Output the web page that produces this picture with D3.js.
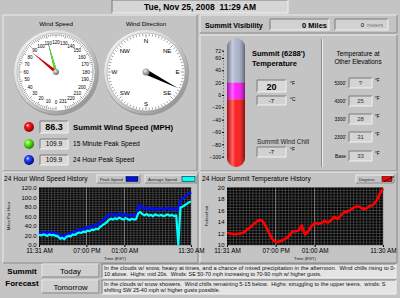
<!DOCTYPE html>
<html>
<head>
<meta charset="utf-8">
<script src="https://cdn.jsdelivr.net/npm/d3@7"></script>
<style>
body { margin: 0; background: #c4c4c4; }
text { font-family: "Liberation Sans", Arial, sans-serif; fill: #000; }
.axis text { font-size: 6px; }
.axis path { display: none; }
.axis line { stroke: #000; }
</style>
</head>
<body>
<svg id="chart" width="400" height="298"></svg>
<script>

// ---- data ----
var dateText = "Tue, Nov 25, 2008  11:29 AM";
var speedLabels = [0,10,20,30,40,50,60,70,80,90,100,110,120,130,140,150,160,170,180,190,200,210,220,231];
var compassLabels = ["N","NE","E","SE","S","SW","W","NW"];
var compassAngles = [0,45,90,135,180,225,270,315];
var windNow = 86.3, peak15 = 109.9, peak24 = 109.9, windDir = 117;
var summitF = 20, summitC = -7, chillF = -7;
var visMiles = 0, visMeters = 0;
var elevNames = ["5300'","4300'","3300'","2300'","Base"];
var elevTemps = ["?","25","28","31","33"];
var thermTicks = [72,60,40,20,0,-20,-40,-60,-80,-100];

// wind history, one sample every 20 min
var avgSpeed = [21,20,22,21,19,22,20,21,19,18,
  13,15,12,17,19,18,22,21,24,26,
  25,28,27,30,29,32,31,34,33,38,
  41,44,47,52,55,53,56,54,57,55,
  53,56,54,52,55,53,54,66,69,64,
  62,65,61,63,60,64,62,61,63,60,
  62,64,61,63,60,62,0,78,80,83,86,89,91];
var peakSpeed = [26,25,27,26,24,27,25,26,24,23,
  18,20,17,22,24,23,27,26,30,33,
  31,35,34,38,37,40,39,43,42,47,
  51,55,58,62,64,61,65,62,66,63,
  61,65,62,60,63,61,62,80,84,77,
  75,79,74,77,73,78,75,74,77,73,
  76,78,74,77,73,76,74,94,97,100,104,107,110];
// temperature history, one sample every 30 min
var tempF = [12.1,12.0,11.9,11.9,12.0,12.1,12.6,13.0,13.5,14.0,
  14.4,14.1,13.2,12.0,11.0,10.5,10.6,10.8,11.1,11.5,
  12.3,12.4,12.5,13.4,11.8,12.4,13.3,13.8,13.7,13.8,
  14.2,13.9,14.3,14.9,14.5,15.1,15.7,15.8,16.1,16.5,
  16.7,16.6,16.2,16.4,16.8,17.0,17.7,18.9,19.8];

var timeTicks = ["2008-11-24T11:31","2008-11-24T19:00","2008-11-25T01:00","2008-11-25T11:30"];
var windTicks = [0,20,40,60,80,100,120];
var tempTicks = [10,12,14,16,18,20];
var forecastDays = ["Today","Tomorrow"];
var forecastLines = [
  ["In the clouds w/ snow, heavy at times, and a chance of mixed precipitation in the afternoon.  Wind chills rising to 0-",
   "10 above.  Highs: mid 20s.  Winds: SE 50-70 mph increasing to 70-90 mph w/ higher gusts."],
  ["In the clouds w/ snow showers.  Wind chills remaining 5-15 below.  Highs: struggling to the upper teens.  winds: S",
   "shifting SW 25-40 mph w/ higher gusts possible."]
];

var svg = d3.select("#chart");
var defs = svg.append("defs");
var parseT = d3.timeParse("%Y-%m-%dT%H:%M");
var t0 = parseT(timeTicks[0]);

// ---- helpers ----
function grad(id, x2, y2, stops) {
  var g = defs.append("linearGradient").attr("id", id)
    .attr("x1", 0).attr("y1", 0).attr("x2", x2).attr("y2", y2);
  stops.forEach(function(s) {
    g.append("stop").attr("offset", s[0]).attr("stop-color", s[1]).attr("stop-opacity", s[2] == null ? 1 : s[2]);
  });
}
function rgrad(id, c0, c1) {
  var g = defs.append("radialGradient").attr("id", id).attr("cx", "38%").attr("cy", "35%").attr("r", "65%");
  g.append("stop").attr("offset", 0).attr("stop-color", "#fff");
  g.append("stop").attr("offset", 0.25).attr("stop-color", c0);
  g.append("stop").attr("offset", 1).attr("stop-color", c1);
}
grad("bezel", 1, 1, [[0,"#fbfbfb"],[0.5,"#d0d0d0"],[1,"#808080"]]);
grad("tubeShade", 1, 0, [[0,"#000",0.35],[0.3,"#fff",0.35],[0.5,"#fff",0.05],[1,"#000",0.45]]);
rgrad("ledRed", "#ff2020", "#900000");
rgrad("ledGreen", "#70ff30", "#208000");
rgrad("ledBlue", "#3050ff", "#000080");
rgrad("pivot", "#c8c8c8", "#707070");

function raised(x, y, w, h) {
  svg.append("rect").attr("x", x).attr("y", y).attr("width", w).attr("height", h).attr("fill", "#c4c4c4");
  svg.append("path").attr("d", "M" + x + "," + (y + h) + "V" + y + "H" + (x + w))
    .attr("stroke", "#ececec").attr("fill", "none");
  svg.append("path").attr("d", "M" + x + "," + (y + h) + "H" + (x + w) + "V" + y)
    .attr("stroke", "#8a8a8a").attr("fill", "none");
}
function inset(x, y, w, h, fill) {
  svg.append("rect").attr("x", x).attr("y", y).attr("width", w).attr("height", h).attr("fill", fill || "#d2d2d2");
  svg.append("path").attr("d", "M" + x + "," + (y + h) + "V" + y + "H" + (x + w))
    .attr("stroke", "#7a7a7a").attr("fill", "none");
  svg.append("path").attr("d", "M" + x + "," + (y + h) + "H" + (x + w) + "V" + y)
    .attr("stroke", "#f2f2f2").attr("fill", "none");
}
function txt(x, y, s, size, anchor, weight, color) {
  return svg.append("text").attr("x", x).attr("y", y).text(s)
    .style("font-size", size + "px").attr("text-anchor", anchor || "start")
    .style("font-weight", weight || "normal").style("fill", color || "#000")
    .style("white-space", "pre");
}

// ---- panels ----
inset(112, 0, 176, 13, "#d6d6d6");
txt(200, 10, dateText, 8.5, "middle", "bold");
raised(3, 15, 194, 156);
raised(200, 15, 197, 18);
raised(200, 35, 197, 136);
raised(3, 172, 195, 91);
raised(200, 172, 197, 91);

// ---- gauges ----
function gaugeBase(cx, cy, label) {
  txt(cx, 26, label, 6.2, "middle");
  svg.append("circle").attr("cx", cx + 0.5).attr("cy", cy + 1).attr("r", 42.5).attr("fill", "#9a9a9a");
  svg.append("circle").attr("cx", cx).attr("cy", cy).attr("r", 42).attr("fill", "url(#bezel)");
  svg.append("circle").attr("cx", cx).attr("cy", cy).attr("r", 39).attr("fill", "#fff")
    .attr("stroke", "#a0a0a0").attr("stroke-width", 0.6);
}
function needle(cx, cy, ang, len, half, color) {
  var dx = Math.sin(ang), dy = -Math.cos(ang);
  var pts = [[cx + dx * len, cy + dy * len], [cx - dy * half, cy + dx * half],
             [cx - dx * 3, cy - dy * 3], [cx + dy * half, cy - dx * half]];
  svg.append("polygon").attr("points", pts.map(function(p) { return p.join(","); }).join(" "))
    .attr("fill", color);
}

// wind speed: 0 at bottom, clockwise, 240 per turn
var sx = 56, sy = 72;
var speedAngle = d3.scaleLinear().domain([0, 240]).range([Math.PI, 3 * Math.PI]);
gaugeBase(sx, sy, "Wind Speed");
d3.range(0, 232, 2).forEach(function(v) {
  var a = speedAngle(v), r2 = v % 10 === 0 ? 34.5 : 36;
  svg.append("line")
    .attr("x1", sx + Math.sin(a) * 38).attr("y1", sy - Math.cos(a) * 38)
    .attr("x2", sx + Math.sin(a) * r2).attr("y2", sy - Math.cos(a) * r2)
    .attr("stroke", "#333").attr("stroke-width", 0.5);
});
speedLabels.forEach(function(v) {
  var a = speedAngle(v);
  txt(sx + Math.sin(a) * 30, sy - Math.cos(a) * 30 + 1.7, v, 4.6, "middle");
});
needle(sx, sy, speedAngle(peak24), 33, 1.2, "#1030ff");
needle(sx, sy, speedAngle(peak15), 33, 1.3, "#66e000");
needle(sx, sy, speedAngle(windNow), 32, 1.6, "#d00000");
svg.append("circle").attr("cx", sx).attr("cy", sy).attr("r", 3).attr("fill", "url(#pivot)");

// wind direction
var dxc = 146, dyc = 72;
gaugeBase(dxc, dyc, "Wind Direction");
d3.range(0, 360, 5).forEach(function(d) {
  var a = d * Math.PI / 180, r2 = d % 45 === 0 ? 34.5 : 36;
  svg.append("line")
    .attr("x1", dxc + Math.sin(a) * 38).attr("y1", dyc - Math.cos(a) * 38)
    .attr("x2", dxc + Math.sin(a) * r2).attr("y2", dyc - Math.cos(a) * r2)
    .attr("stroke", "#333").attr("stroke-width", 0.5);
});
compassLabels.forEach(function(l, i) {
  var a = compassAngles[i] * Math.PI / 180, r = l.length > 1 ? 30 : 31.5;
  txt(dxc + Math.sin(a) * r, dyc - Math.cos(a) * r + 2.2, l, 6.2, "middle");
});
needle(dxc, dyc, windDir * Math.PI / 180, 36, 2.6, "#000");
svg.append("circle").attr("cx", dxc).attr("cy", dyc).attr("r", 3.5).attr("fill", "url(#pivot)");

// ---- wind readouts ----
var leds = ["ledRed", "ledGreen", "ledBlue"];
var readVals = [windNow, peak15, peak24];
var readNames = ["Summit Wind Speed (MPH)", "15 Minute Peak Speed", "24 Hour Peak Speed"];
var readY = [127, 144, 160];
readY.forEach(function(y, i) {
  svg.append("circle").attr("cx", 29).attr("cy", y).attr("r", 5).attr("fill", "url(#" + leds[i] + ")");
  if (i === 0) {
    inset(40, y - 6, 28, 12, "#d8d8d8");
    txt(54, y + 3.2, d3.format(".1f")(readVals[i]), 9, "middle", "bold");
    txt(73, y + 3, readNames[i], 7.8, "start", "bold");
  } else {
    inset(40, y - 5, 28, 10, "#d8d8d8");
    txt(54, y + 2.3, d3.format(".1f")(readVals[i]), 6.5, "middle");
    txt(73, y + 2.3, readNames[i], 6.6, "start");
  }
});

// ---- visibility ----
txt(205, 27.5, "Summit Visibility", 7.2, "start", "bold");
inset(270, 19, 59, 11, "#d2d2d2");
txt(327, 27.5, visMiles + " Miles", 7.5, "end", "bold");
inset(335, 19, 53, 11, "#d2d2d2");
txt(364, 27, visMeters, 6, "end");
txt(367, 27, "meters", 5.3, "start", "normal", "#777");

// ---- thermometer ----
var tY = d3.scaleLinear().domain([-100, 72]).range([156.7, 50.6]);
defs.append("clipPath").attr("id", "tube").append("rect")
  .attr("x", 227).attr("y", 38).attr("width", 18).attr("height", 129).attr("rx", 9);
var tube = svg.append("g").attr("clip-path", "url(#tube)");
tube.append("rect").attr("x", 227).attr("y", 38).attr("width", 18).attr("height", tY(summitF) - 38).attr("fill", "#a9b2cc");
tube.append("rect").attr("x", 227).attr("y", tY(summitF)).attr("width", 18).attr("height", tY(chillF) - tY(summitF)).attr("fill", "#ff10ff");
tube.append("rect").attr("x", 227).attr("y", tY(chillF)).attr("width", 18).attr("height", 167 - tY(chillF)).attr("fill", "#ff1010");
tube.append("rect").attr("x", 227).attr("y", 38).attr("width", 18).attr("height", 129).attr("fill", "url(#tubeShade)");
svg.append("g").attr("class", "axis").attr("transform", "translate(224,0)")
  .call(d3.axisLeft(tY).tickValues(thermTicks).tickSize(2).tickPadding(1))
  .selectAll("text").style("font-size", "5.1px");
svg.append("g").attr("transform", "translate(224,0)")
  .selectAll("line").data(d3.range(-100, 73, 5)).enter().append("line")
  .attr("x1", -1).attr("x2", 0).attr("y1", tY).attr("y2", tY)
  .attr("stroke", "#000").attr("stroke-width", 0.5);

txt(252, 56, "Summit (6288')", 7.5, "start", "bold");
txt(252, 65.5, "Temperature", 7.5, "start", "bold");
inset(257, 80, 29, 12, "#d8d8d8");
txt(271.5, 89.5, summitF, 9, "middle", "bold");
txt(290, 85, "\u00b0F", 4.8);
inset(257, 96, 29, 9, "#d2d2d2");
txt(271.5, 102.8, summitC, 6, "middle");
txt(290, 101, "\u00b0C", 4.8);
txt(257, 144, "Summit Wind Chill", 6.4, "start", "normal", "#222");
inset(257, 147, 29, 10, "#d2d2d2");
txt(271.5, 154.3, chillF, 6, "middle");
txt(290, 151, "\u00b0F", 4.8);

svg.append("line").attr("x1", 321.5).attr("x2", 321.5).attr("y1", 39).attr("y2", 167).attr("stroke", "#8a8a8a").attr("stroke-width", 1);
svg.append("line").attr("x1", 322.5).attr("x2", 322.5).attr("y1", 39).attr("y2", 167).attr("stroke", "#efefef").attr("stroke-width", 1);

txt(358, 56, "Temperature at", 6.4, "middle");
txt(358, 64, "Other Elevations", 6.4, "middle");
var elevY = [83, 101, 119, 137, 156];
elevNames.forEach(function(n, i) {
  var y = elevY[i];
  txt(346, y + 1.7, n, 4.8, "end");
  inset(349, y - 5, 23, 10, "#d4d4d4");
  txt(360.5, y + 2.2, elevTemps[i], 6, "middle", "normal", "#333");
  txt(375, y - 1, "\u00b0F", 4.6);
});

// ---- history charts ----
txt(4, 181, "24 Hour Wind Speed History", 6.6);
txt(202, 181, "24 Hour Summit Temperature History", 6.6);

function legend(x, w, label, sw, color) {
  raised(x, 175, w, 8);
  txt(x + 3, 181, label, 4.2, "start", "normal", "#222");
  svg.append("rect").attr("x", x + w - sw - 2).attr("y", 176.5).attr("width", sw).attr("height", 5)
    .attr("fill", color).attr("stroke", "#000").attr("stroke-width", 0.5);
}
legend(97, 43, "Peak Speed", 12, "#0010e0");
legend(145, 52, "Average Speed", 13, "#00ffff");
legend(356, 38, "Degrees", 10, "#ff0000");
svg.append("line").attr("x1", 384).attr("y1", 181.5).attr("x2", 394).attr("y2", 176.5).attr("stroke", "#000").attr("stroke-width", 0.8);

var timeVals = timeTicks.map(parseT);
var timeFmt = d3.timeFormat("%I:%M %p");

function historyChart(left, right, yDomain, yTicks, yFmt, minorY, yTitle, titleX, series) {
  var x = d3.scaleTime().domain([t0, d3.timeHour.offset(t0, 24)]).range([left, right]);
  var y = d3.scaleLinear().domain(yDomain).range([245, 187.5]);
  svg.append("rect").attr("x", left).attr("y", 187.5).attr("width", right - left).attr("height", 57.5).attr("fill", "#000");
  var grid = svg.append("g").attr("stroke", "#5c5c5c").attr("stroke-width", 0.6);
  x.ticks(d3.timeMinute.every(30)).forEach(function(t) {
    grid.append("line").attr("x1", x(t)).attr("x2", x(t)).attr("y1", 187.5).attr("y2", 245);
  });
  d3.range(yDomain[0], yDomain[1] + 0.001, minorY).forEach(function(v) {
    grid.append("line").attr("x1", left).attr("x2", right).attr("y1", y(v)).attr("y2", y(v));
  });
  var major = svg.append("g").attr("stroke", "#9a9a9a").attr("stroke-width", 0.7);
  timeVals.slice(1, 3).forEach(function(t) {
    major.append("line").attr("x1", x(t)).attr("x2", x(t)).attr("y1", 187.5).attr("y2", 245);
  });

  series.forEach(function(s) {
    var line = d3.line()
      .x(function(d, i) { return x(d3.timeMinute.offset(t0, i * s.step)); })
      .y(function(d) { return y(d); });
    svg.append("path").datum(s.values).attr("d", line)
      .attr("fill", "none").attr("stroke", s.color).attr("stroke-width", s.width)
      .attr("stroke-linejoin", "round");
  });

  svg.append("g").attr("class", "axis").attr("transform", "translate(" + left + ",0)")
    .call(d3.axisLeft(y).tickValues(yTicks).tickFormat(yFmt).tickSize(0).tickPadding(2.5));
  svg.append("g").attr("class", "axis").attr("transform", "translate(0,245)")
    .call(d3.axisBottom(x).tickValues(timeVals).tickFormat(timeFmt).tickSize(2).tickPadding(1.5))
    .selectAll("text").style("font-size", "6.4px");
  txt((left + right) / 2, 259.5, "Time (EST)", 4.3, "middle", "normal", "#222");
  svg.append("text").text(yTitle)
    .attr("transform", "translate(" + titleX + ",216) rotate(-90)")
    .attr("text-anchor", "middle").style("font-size", "4.3px").style("fill", "#222");
}

historyChart(39, 191, [0, 120], windTicks, d3.format(".1f"), 5, "Miles Per Hour", 10, [
  { values: peakSpeed, step: 20, color: "#0010f0", width: 2.6 },
  { values: avgSpeed, step: 20, color: "#00ffff", width: 2.2 }
]);
historyChart(227, 383, [10, 20], tempTicks, d3.format("d"), 0.5, "Fahrenheit", 208, [
  { values: tempF, step: 30, color: "#ff0000", width: 2.6 }
]);

// ---- forecast ----
txt(22, 274, "Summit", 8, "middle", "bold");
txt(22, 286, "Forecast", 8, "middle", "bold");
forecastDays.forEach(function(d, i) {
  var y = 264 + i * 16;
  raised(42, y, 57, 13);
  svg.append("rect").attr("x", 43).attr("y", y + 1).attr("width", 55).attr("height", 11).attr("fill", "#d0d0d0");
  txt(70.5, y + 9.5, d, 7.8, "middle");
  inset(102, y, 294, 14, "#e4e4e4");
  forecastLines[i].forEach(function(l, j) {
    txt(104, y + 5.8 + j * 5.8, l, 5.2, "start", "normal", "#111")
      .attr("textLength", l.length * 2.47).attr("lengthAdjust", "spacingAndGlyphs");
  });
});
</script>
</body>
</html>
